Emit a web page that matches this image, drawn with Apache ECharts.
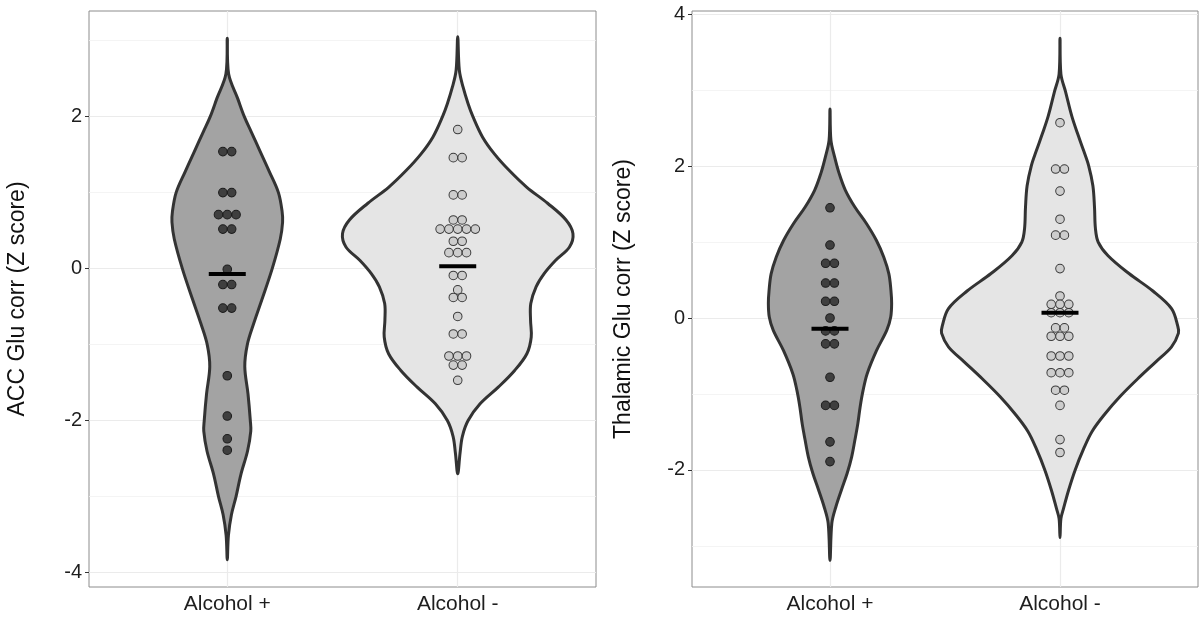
<!DOCTYPE html>
<html>
<head>
<meta charset="utf-8">
<script src="https://cdn.jsdelivr.net/npm/echarts@6/dist/echarts.min.js"></script>
<style>
html,body{margin:0;padding:0;background:#fff;}
#chart{width:1203px;height:619px;}
</style>
</head>
<body>
<div id="chart"></div>
<script>
// ---------------- DATA ----------------
const categories = ['Alcohol +', 'Alcohol -'];
const panelTitles = ['ACC Glu corr (Z score)', 'Thalamic Glu corr (Z score)'];
const accTicks = [-4, -2, 0, 2];
const accMinorTicks = [-3, -1, 1, 3];
const thalTicks = [-2, 0, 2, 4];
const thalMinorTicks = [-3, -1, 1, 3];

// individual Z scores (dot plots)
const accPlus = [1.54, 1.54, 1.0, 1.0, 0.71, 0.71, 0.71, 0.52, 0.52, -0.01, -0.21, -0.21, -0.52, -0.52, -1.41, -1.94, -2.24, -2.39];
const accMinus = [1.83, 1.46, 1.46, 0.97, 0.97, 0.64, 0.64, 0.52, 0.52, 0.52, 0.52, 0.52, 0.36, 0.36, 0.21, 0.21, 0.21,
  -0.09, -0.09, -0.28, -0.38, -0.38, -0.63, -0.86, -0.86, -1.15, -1.15, -1.15, -1.27, -1.27, -1.47];
const thalPlus = [1.45, 0.96, 0.72, 0.72, 0.46, 0.46, 0.22, 0.22, 0.0, -0.17, -0.17, -0.34, -0.34, -0.78, -1.15, -1.15, -1.63, -1.89];
const thalMinus = [2.57, 1.96, 1.96, 1.67, 1.30, 1.09, 1.09, 0.65, 0.29, 0.18, 0.18, 0.18, 0.07, 0.07, 0.07,
  -0.13, -0.13, -0.24, -0.24, -0.24, -0.50, -0.50, -0.50, -0.72, -0.72, -0.72, -0.95, -0.95, -1.15, -1.60, -1.77];

// group means (horizontal bars)
const accMeans = [-0.07, 0.03];
const thalMeans = [-0.14, 0.07];

// violin outlines: y value and half-width (in category units)
const accPlusViolinY = [3.03, 2.56, 2.24, 2.0, 1.80, 1.54, 1.28, 1.0, 0.75, 0.61, 0.39, 0.0, -0.41, -0.72, -1.0, -1.29, -1.65, -2.0, -2.14, -2.40, -2.71, -3.0, -3.24, -3.51, -3.83];
const accPlusViolinW = [0, 0.006, 0.045, 0.074, 0.104, 0.143, 0.182, 0.222, 0.238, 0.24, 0.23, 0.195, 0.15, 0.115, 0.087, 0.076, 0.09, 0.10, 0.102, 0.088, 0.059, 0.038, 0.018, 0.005, 0];
const accMinusViolinY = [3.05, 2.61, 2.39, 2.17, 2.0, 1.73, 1.51, 1.29, 1.07, 0.86, 0.64, 0.46, 0.285, 0.11, -0.066, -0.24, -0.46, -0.68, -0.90, -1.12, -1.34, -1.56, -1.78, -2.0, -2.21, -2.43, -2.70];
const accMinusViolinW = [0, 0.007, 0.023, 0.045, 0.066, 0.108, 0.159, 0.224, 0.30, 0.39, 0.47, 0.50, 0.485, 0.425, 0.375, 0.34, 0.317, 0.316, 0.319, 0.30, 0.247, 0.176, 0.097, 0.045, 0.02, 0.01, 0];
const thalPlusViolinY = [2.75, 2.34, 2.12, 1.90, 1.68, 1.46, 1.24, 1.02, 0.80, 0.58, 0.36, 0.19, 0.013, -0.16, -0.43, -0.73, -0.95, -1.17, -1.39, -1.61, -1.83, -2.04, -2.26, -2.49, -2.70, -3.19];
const thalPlusViolinW = [0, 0.004, 0.02, 0.04, 0.067, 0.108, 0.159, 0.202, 0.234, 0.256, 0.265, 0.268, 0.264, 0.247, 0.202, 0.162, 0.144, 0.131, 0.121, 0.108, 0.094, 0.075, 0.05, 0.025, 0.008, 0];
const thalMinusViolinY = [3.68, 3.21, 2.98, 2.66, 2.43, 2.20, 2.0, 1.74, 1.46, 1.18, 1.0, 0.82, 0.585, 0.355, 0.124, -0.106, -0.2, -0.38, -0.57, -0.80, -1.03, -1.26, -1.49, -1.72, -2.0, -2.27, -2.50, -2.64, -2.89];
const thalMinusViolinW = [0, 0.004, 0.024, 0.051, 0.076, 0.103, 0.125, 0.143, 0.15, 0.154, 0.166, 0.209, 0.30, 0.404, 0.485, 0.512, 0.515, 0.485, 0.419, 0.338, 0.262, 0.196, 0.14, 0.103, 0.066, 0.037, 0.016, 0.004, 0];

// ---------------- STYLE / LAYOUT ----------------
const FONT = 'Liberation Sans, Arial, Helvetica, sans-serif';
const violinFill = ['#a3a3a3', '#e5e5e5'];
const dotFill = ['#3f3f3f', '#cdcdcd'];
const dotBorder = ['#1c1c1c', '#3a3a3a'];
const DOT_SIZE = 8.6;
const DOT_STEP = 8.8;

const panels = [
  {
    grid: { left: 89, top: 11, width: 507, height: 576 },
    yMin: -4.19, yMax: 3.39, ticks: accTicks, minor: accMinorTicks, title: panelTitles[0], nameGap: 60,
    dots: [accPlus, accMinus], means: accMeans,
    violins: [[accPlusViolinY, accPlusViolinW], [accMinusViolinY, accMinusViolinW]]
  },
  {
    grid: { left: 692, top: 11, width: 506, height: 576 },
    yMin: -3.54, yMax: 4.04, ticks: thalTicks, minor: thalMinorTicks, title: panelTitles[1], nameGap: 57,
    dots: [thalPlus, thalMinus], means: thalMeans,
    violins: [[thalPlusViolinY, thalPlusViolinW], [thalMinusViolinY, thalMinusViolinW]]
  }
];

function dotItems(catPos, vals) {
  const counts = {}, seen = {};
  vals.forEach(v => { counts[v] = (counts[v] || 0) + 1; });
  return vals.map(v => {
    const n = counts[v];
    const i = seen[v] = (seen[v] === undefined ? 0 : seen[v] + 1);
    return { value: [catPos, v], symbolOffset: [(i - (n - 1) / 2) * DOT_STEP, 0] };
  });
}

const grids = [], xAxes = [], yAxes = [], series = [];
panels.forEach((p, pi) => {
  grids.push(Object.assign({ show: true, borderColor: '#8c8c8c', borderWidth: 1, backgroundColor: '#fff' }, p.grid));
  xAxes.push({
    type: 'value', gridIndex: pi, min: 0.4, max: 2.6,
    axisLine: { show: false },
    axisTick: { show: true, length: 4, lineStyle: { color: '#333', width: 1 }, customValues: [1, 2] },
    axisLabel: { customValues: [1, 2], formatter: v => categories[Math.round(v) - 1], color: '#1e1e1e', fontSize: 21, fontFamily: FONT, margin: 7 },
    splitLine: { show: true, lineStyle: { color: '#ebebeb', width: 1.2 } }
  });
  yAxes.push({
    type: 'value', gridIndex: pi, min: p.yMin, max: p.yMax,
    name: p.title, nameLocation: 'middle', nameGap: p.nameGap,
    nameTextStyle: { color: '#111', fontSize: 23, fontFamily: FONT },
    axisLine: { show: false },
    axisTick: { show: true, length: 4, lineStyle: { color: '#333', width: 1 }, customValues: p.ticks },
    axisLabel: { customValues: p.ticks, color: '#1e1e1e', fontSize: 20, fontFamily: FONT, margin: 7 },
    splitLine: { show: true, lineStyle: { color: '#ebebeb', width: 1.2 } }
  });
  yAxes.push({
    type: 'value', gridIndex: pi, min: p.yMin, max: p.yMax, position: 'left',
    axisLine: { show: false },
    axisTick: { show: false, customValues: p.minor },
    axisLabel: { show: false, customValues: p.minor },
    splitLine: { show: true, lineStyle: { color: '#f1f1f1', width: 0.8 } }
  });
  const yIdx = pi * 2;
  // violins
  series.push({
    type: 'custom', xAxisIndex: pi, yAxisIndex: yIdx, z: 2, silent: true,
    data: [[1, 0], [2, 0]],
    encode: { x: 0, y: 1 },
    renderItem: function (params, api) {
      const k = params.dataIndex;
      const ys = p.violins[k][0], ws = p.violins[k][1];
      const c = k + 1;
      const pts = [];
      for (let j = 0; j < ys.length; j++) pts.push(api.coord([c + ws[j], ys[j]]));
      for (let j = ys.length - 2; j >= 1; j--) pts.push(api.coord([c - ws[j], ys[j]]));
      return {
        type: 'polygon',
        shape: { points: pts, smooth: 0.35 },
        style: { fill: violinFill[k], stroke: '#333333', lineWidth: 3, lineJoin: 'round' }
      };
    }
  });
  // dots
  p.dots.forEach((vals, k) => {
    series.push({
      type: 'scatter', xAxisIndex: pi, yAxisIndex: yIdx, z: 3, silent: true,
      symbol: 'circle', symbolSize: DOT_SIZE,
      itemStyle: { color: dotFill[k], borderColor: dotBorder[k], borderWidth: 1, opacity: 1 },
      data: dotItems(k + 1, vals)
    });
  });
  // means
  series.push({
    type: 'scatter', xAxisIndex: pi, yAxisIndex: yIdx, z: 4, silent: true,
    symbol: 'rect', symbolSize: [37, 4],
    itemStyle: { color: '#000', opacity: 1 },
    data: p.means.map((m, k) => [k + 1, m])
  });
});

const chart = echarts.init(document.getElementById('chart'), null, { renderer: 'canvas' });
chart.setOption({
  animation: false,
  backgroundColor: '#ffffff',
  textStyle: { fontFamily: FONT },
  grid: grids, xAxis: xAxes, yAxis: yAxes, series: series
});
</script>
</body>
</html>
